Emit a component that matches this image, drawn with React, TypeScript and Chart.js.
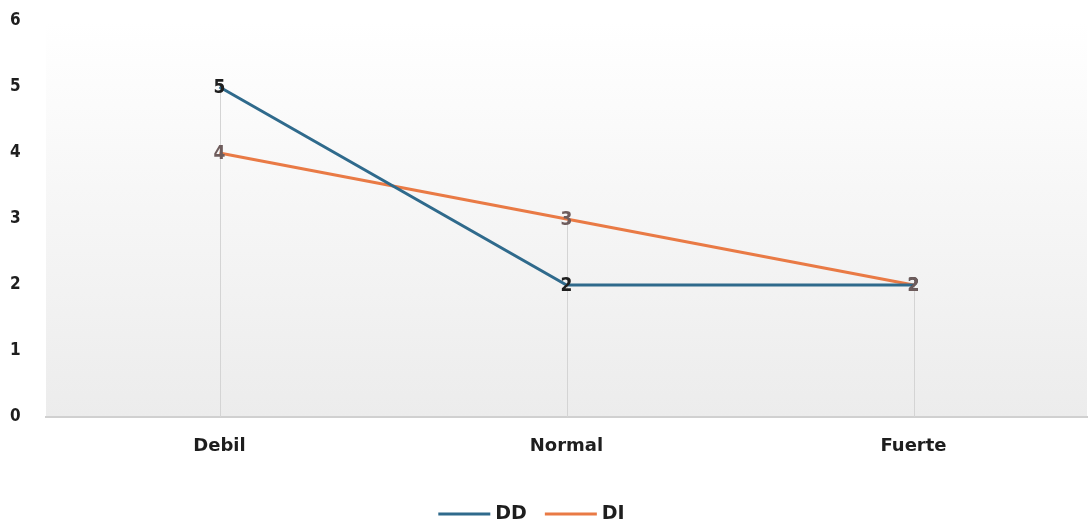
import React, { useEffect, useRef } from "react";
import { Chart, registerables } from "chart.js";

Chart.register(...registerables);

const categories = ["Debil", "Normal", "Fuerte"];
const ddValues = [5, 2, 2];
const diValues = [4, 3, 2];
const yTicks = [0, 1, 2, 3, 4, 5, 6];

const WIDE = '"DejaVu Sans", "Noto Sans", sans-serif';
const NUM = '"DejaVu Sans Condensed", "DejaVu Sans", sans-serif';

const bgPlugin = {
  id: "plotBg",
  beforeDraw(chart: any) {
    const { ctx, chartArea } = chart;
    const g = ctx.createLinearGradient(0, chartArea.top, 0, chartArea.bottom);
    g.addColorStop(0, "#ffffff");
    g.addColorStop(1, "#ececec");
    ctx.save();
    ctx.fillStyle = g;
    ctx.fillRect(chartArea.left, chartArea.top, chartArea.right - chartArea.left, chartArea.bottom - chartArea.top);
    ctx.restore();
  },
};

const dropLinePlugin = {
  id: "dropLines",
  beforeDatasetsDraw(chart: any) {
    const { ctx, chartArea, scales } = chart;
    ctx.save();
    ctx.strokeStyle = "#d4d4d4";
    ctx.lineWidth = 1;
    categories.forEach((_, i) => {
      const maxV = Math.max(...chart.data.datasets.map((d: any) => d.data[i]));
      const x = Math.round(scales.x.getPixelForValue(i)) + 0.5;
      const y = scales.y.getPixelForValue(maxV);
      ctx.beginPath();
      ctx.moveTo(x, y);
      ctx.lineTo(x, chartArea.bottom);
      ctx.stroke();
    });
    ctx.restore();
  },
};

const labelPlugin = {
  id: "valueLabels",
  afterDatasetsDraw(chart: any) {
    const { ctx } = chart;
    ctx.save();
    ctx.font = `bold 19px ${NUM}`;
    ctx.textAlign = "center";
    ctx.textBaseline = "middle";
    chart.data.datasets.forEach((ds: any, di: number) => {
      const meta = chart.getDatasetMeta(di);
      meta.data.forEach((pt: any, i: number) => {
        ctx.fillStyle = ds.labelColor;
        ctx.fillText(String(ds.data[i]), pt.x, pt.y + 1);
      });
    });
    ctx.restore();
  },
};

const legendPlugin = {
  id: "customLegend",
  afterDraw(chart: any) {
    const { ctx } = chart;
    const lineLen = 52;
    const gap = 5;
    const itemGap = 18;
    ctx.save();
    ctx.font = `bold 19px ${WIDE}`;
    const items = chart.data.datasets.map((ds: any) => ({
      label: ds.label,
      color: ds.borderColor,
      w: lineLen + gap + ctx.measureText(ds.label).width,
    }));
    const total = items.reduce((s: number, it: any) => s + it.w, 0) + itemGap * (items.length - 1);
    let x = chart.width / 2 - 14 - total / 2;
    const y = 514;
    items.forEach((it: any) => {
      ctx.strokeStyle = it.color;
      ctx.lineWidth = 3;
      ctx.beginPath();
      ctx.moveTo(x, y);
      ctx.lineTo(x + lineLen, y);
      ctx.stroke();
      ctx.fillStyle = "#1e1e1e";
      ctx.textAlign = "left";
      ctx.textBaseline = "middle";
      ctx.fillText(it.label, x + lineLen + gap, y);
      x += it.w + itemGap;
    });
    ctx.restore();
  },
};

export default function App() {
  const ref = useRef<HTMLCanvasElement>(null);
  useEffect(() => {
    document.body.style.margin = "0";
    const chart = new Chart(ref.current!, {
      type: "line",
      data: {
        labels: categories,
        datasets: [
          {
            label: "DD",
            data: ddValues,
            borderColor: "#2f6a8c",
            backgroundColor: "#2f6a8c",
            borderWidth: 3,
            pointRadius: 0,
            tension: 0,
            labelColor: "#1e1e1e",
          } as any,
          {
            label: "DI",
            data: diValues,
            borderColor: "#e97a45",
            backgroundColor: "#e97a45",
            borderWidth: 3,
            pointRadius: 0,
            tension: 0,
            labelColor: "#6e5c5c",
          } as any,
        ],
      },
      options: {
        animation: false,
        responsive: false,
        maintainAspectRatio: false,
        layout: { padding: { top: 21, right: 4, bottom: 37, left: 10 } },
        plugins: {
          legend: { display: false },
          tooltip: { enabled: false },
        },
        scales: {
          x: {
            offset: true,
            grid: { display: false, drawTicks: false },
            border: { display: true, color: "#d0d0d0", width: 2 },
            ticks: {
              color: "#1e1e1e",
              font: { family: WIDE, size: 18, weight: "bold" },
              padding: 19,
            },
            afterFit(scale: any) {
              scale.height = 69;
            },
          },
          y: {
            min: 0,
            max: 6,
            afterBuildTicks(scale: any) {
              scale.ticks = yTicks.map((v) => ({ value: v }));
            },
            grid: { display: false, drawTicks: false },
            border: { display: false },
            ticks: {
              color: "#1e1e1e",
              font: { family: NUM, size: 17, weight: "bold" },
              padding: 0,
              crossAlign: "far",
            },
            afterFit(scale: any) {
              scale.width = 36;
            },
          },
        },
      },
      plugins: [bgPlugin, dropLinePlugin, labelPlugin, legendPlugin],
    });
    return () => chart.destroy();
  }, []);
  return (
    <div style={{ width: 1091, height: 523 }}>
      <canvas ref={ref} width={1091} height={523} style={{ display: "block" }} />
    </div>
  );
}
